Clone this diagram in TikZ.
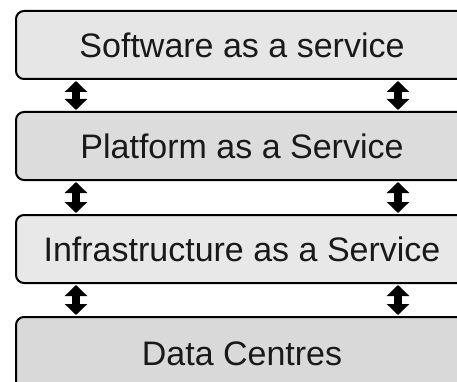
\documentclass[tikz,border=0pt]{standalone}
\usepackage{fontspec}
\setmainfont{Liberation Sans}
\usetikzlibrary{arrows.meta}
\definecolor{fillA}{RGB}{230,230,230}
\definecolor{fillB}{RGB}{220,220,220}
\definecolor{fillC}{RGB}{232,232,232}
\definecolor{fillD}{RGB}{217,217,217}
\tikzset{
  layer/.style={draw=black, line width=2pt, rounded corners=8pt,
    minimum width=452pt, minimum height=68pt, anchor=north west,
    inner sep=0pt, text height=24.3pt, text depth=0pt,
    font=\fontsize{34}{40}\selectfont, text=black!90},
  link/.style={line width=8pt, shorten <=1pt, shorten >=1pt,
    {Triangle[width=22pt,length=11pt]}-{Triangle[width=22pt,length=11pt]}}
}
\begin{document}
\begin{tikzpicture}[x=1pt, y=-1pt]
\useasboundingbox (0,0) rectangle (457,382);
\clip (0,0) rectangle (457,382);
\node[layer, fill=fillA] (saas) at (15,10)  {Software as a service};
\node[layer, fill=fillB] (paas) at (15,111) {Platform as a Service};
\node[layer, fill=fillC] (iaas) at (15,214) {Infrastructure as a Service};
\node[layer, fill=fillD, minimum height=72pt] (dc) at (15,316) {Data Centres};
\foreach \u/\l in {saas/paas, paas/iaas, iaas/dc}{
  \draw[link] ([xshift=61pt]\u.south west) -- ([xshift=61pt]\l.north west);
  \draw[link] ([xshift=383pt]\u.south west) -- ([xshift=383pt]\l.north west);
}
\end{tikzpicture}
\end{document}
